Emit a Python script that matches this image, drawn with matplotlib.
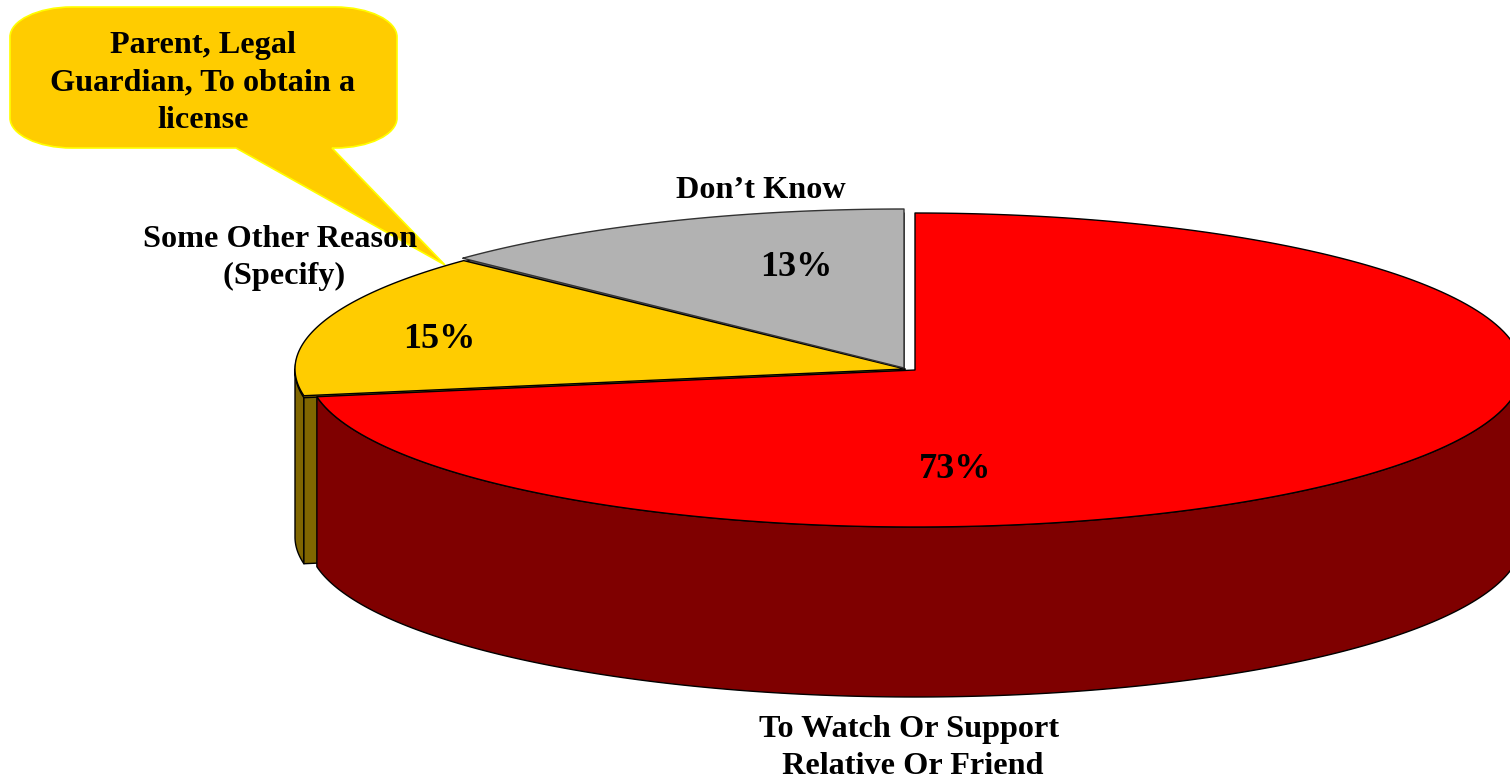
import numpy as np
import matplotlib
matplotlib.use("Agg")
import matplotlib.pyplot as plt
from matplotlib.path import Path
from matplotlib.patches import PathPatch, Polygon

# ---- data ----
categories = ["To Watch Or Support\n Relative Or Friend", "Some Other Reason\n (Specify)", "Don\u2019t Know"]
values = [73, 15, 13]
callout_text = "Parent, Legal\nGuardian, To obtain a\nlicense"

# ---- style / layout ----
top_colors = ["#ff0000", "#ffcc00", "#b2b2b2"]
side_colors = ["#7f0000", "#806600", "#5a5a5a"]
centers = [(915, 370), (905, 369), (904, 368)]
radii = [(607, 157), (610, 157), (610, 159)]
depths = [170, 168, 4]
font = ["Liberation Serif", "DejaVu Serif"]
FS = 23.2

fig = plt.figure(figsize=(15.1, 7.8), dpi=100)
ax = fig.add_axes([0, 0, 1, 1])
ax.set_xlim(0, 1510)
ax.set_ylim(780, 0)
ax.axis("off")

fractions = np.array(values, float) / np.sum(values)
bounds = np.concatenate([[0], np.cumsum(fractions)]) * 2 * np.pi


def rim(i, t0, t1, n=200, dy=0):
    t = np.linspace(t0, t1, n)
    cx, cy = centers[i]
    rx, ry = radii[i]
    return np.column_stack([cx + rx * np.sin(t), cy - ry * np.cos(t) + dy])


def wedge_face(i, dy=0):
    cx, cy = centers[i]
    pts = np.vstack([[cx, cy + dy], rim(i, bounds[i], bounds[i + 1], dy=dy)])
    return pts


def poly(pts, fc, z, ec="black", lw=1.0):
    ax.add_patch(Polygon(pts, closed=True, fc=fc, ec=ec, lw=lw, zorder=z, joinstyle="round"))


# callout balloon, behind the pie
x0, x1, y0, y1 = 10, 397, 7, 148
crx, cry = 62, 30
k = 0.55
tail_tip = (445, 265)
verts = [
    (x0 + crx, y0), (x1 - crx, y0),
    (x1 - crx * (1 - k), y0), (x1, y0 + cry * (1 - k)), (x1, y0 + cry),
    (x1, y1 - cry),
    (x1, y1 - cry * (1 - k)), (x1 - crx * (1 - k), y1), (x1 - crx, y1),
    (332, y1), tail_tip, (236, y1),
    (x0 + crx, y1),
    (x0 + crx * (1 - k), y1), (x0, y1 - cry * (1 - k)), (x0, y1 - cry),
    (x0, y0 + cry),
    (x0, y0 + cry * (1 - k)), (x0 + crx * (1 - k), y0), (x0 + crx, y0),
    (x0 + crx, y0),
]
C3, L = Path.CURVE4, Path.LINETO
codes = [Path.MOVETO, L, C3, C3, C3, L, C3, C3, C3, L, L, L, L, C3, C3, C3, L, C3, C3, C3, Path.CLOSEPOLY]
ax.add_patch(PathPatch(Path(verts, codes), fc="#ffcc00", ec="#ffff00", lw=1.2, zorder=1))

# yellow slice: outer rim and cut face
outer = rim(1, bounds[1], 1.5 * np.pi)
poly(np.vstack([outer, (outer + [0, depths[1]])[::-1]]), side_colors[1], 2)
corner = rim(1, bounds[1], bounds[1], n=1)[0]
apex = np.array(centers[1], float)
poly([corner, apex, apex + [0, depths[1]], corner + [0, depths[1]]], side_colors[1], 2)

# red slice side wall
side = rim(0, 0.45 * np.pi, bounds[1])
poly(np.vstack([side, (side + [0, depths[0]])[::-1]]), side_colors[0], 3)

# thin cut edges of the grey and yellow slices
poly(wedge_face(2, dy=depths[2]), side_colors[2], 4)
poly(wedge_face(1, dy=2), side_colors[1], 4)

# top faces
poly(wedge_face(0), top_colors[0], 5)
poly(wedge_face(1), top_colors[1], 6)
poly(wedge_face(2), top_colors[2], 7, ec="#333333")

# texts
txt = dict(family=font, weight="bold", color="black", ha="center", va="center",
           fontsize=FS, linespacing=1.40, zorder=10)
ax.text(203, 83, callout_text, **txt)
ax.text(909, 748, categories[0], **txt)
ax.text(280, 258, categories[1], **txt)
ax.text(761, 190, categories[2], **txt)

label_pos = [(955, 469), (439, 340), (796, 268)]
for v, (lx, ly) in zip(values, label_pos):
    ax.text(lx, ly, f"{v}%", **{**txt, "fontsize": 26})

fig.savefig("out.png", dpi=100, facecolor="white")
